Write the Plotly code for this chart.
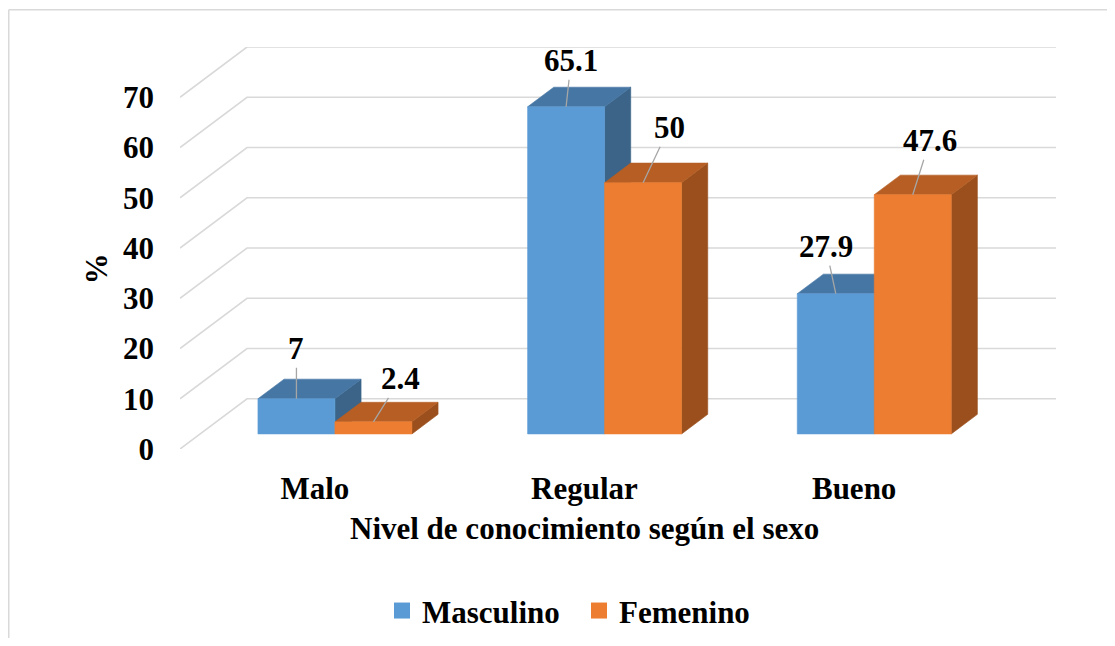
import plotly.graph_objects as go

# ---------------- data ----------------
categories = ["Malo", "Regular", "Bueno"]
series_names = ["Masculino", "Femenino"]
masculino = [7, 65.1, 27.9]
femenino = [2.4, 50, 47.6]
y_ticks = [0, 10, 20, 30, 40, 50, 60, 70]
x_title = "Nivel de conocimiento según el sexo"
y_title = "%"

# ---------------- style / geometry ----------------
OFF = 8                      # page body margin of the html page
W, H = 1115 - 2 * OFF, 646 - 2 * OFF     # keep the page from overflowing
PL, PR, PT, PB = 180, 1056, 46.7, 449   # plot box in window pixels
M_L, M_T = PL - OFF, PT - OFF
M_R, M_B = W - (PR - OFF), H - (PB - OFF)
pw, ph = PR - PL, PB - PT


def px_x(x):   # window pixel -> paper x
    return (x - PL) / pw


def px_y(y):   # window pixel -> paper y
    return (PB - y) / ph


DX = 0.2485          # full floor depth, in x (category) units
DY = 10.0            # full floor depth, in y (value) units
D0 = 0.30            # depth fraction of the bar front
DB = 0.39            # depth fraction of the bar thickness
BW = 0.2855          # bar width in category units
FONT = "Liberation Serif"
GRID = "#d9d9d9"
colors = {
    "Masculino": {"front": "#5B9BD5", "top": "#4676A4", "side": "#3B6488"},
    "Femenino": {"front": "#ED7D31", "top": "#B65E23", "side": "#9A4F1D"},
}
# label offsets (px) from the front-top centre of each bar
label_offsets = {
    "Masculino": [(0, -50), (5, -46), (-10, -47)],
    "Femenino": [(27, -43), (26, -55), (17, -54)],
}

fig = go.Figure()

x_lo, x_hi = -0.5, len(categories) - 0.5

# back wall horizontal gridlines and side wall diagonals
gx, gy = [], []
for v in y_ticks:
    gx += [x_lo, x_lo + DX, x_hi + DX, None]
    gy += [v, v + DY, v + DY, None]
fig.add_trace(go.Scatter(x=gx, y=gy, mode="lines",
                         line=dict(color=GRID, width=1.6),
                         hoverinfo="skip", showlegend=False))


def poly(xs, ys, color):
    fig.add_trace(go.Scatter(x=xs + [xs[0]], y=ys + [ys[0]], mode="lines",
                             fill="toself", fillcolor=color,
                             line=dict(color=color, width=0.6),
                             hoverinfo="skip", showlegend=False))


annotations = []
series = {"Masculino": masculino, "Femenino": femenino}
for i, cat in enumerate(categories):
    cx = i + D0 * DX
    for k, name in enumerate(series_names):
        v = series[name][i]
        L = cx - BW + k * BW
        R = L + BW
        B = D0 * DY
        T = B + v
        ddx, ddy = DB * DX, DB * DY
        c = colors[name]
        poly([R, R + ddx, R + ddx, R], [B, B + ddy, T + ddy, T], c["side"])
        poly([L, R, R + ddx, L + ddx], [T, T, T + ddy, T + ddy], c["top"])
        poly([L, R, R, L], [B, B, T, T], c["front"])
        ox, oy = label_offsets[name][i]
        annotations.append(dict(
            x=(L + R) / 2, y=T, xref="x", yref="y", text=f"{v:g}",
            showarrow=True, arrowhead=0, arrowwidth=1.3, arrowcolor="#a6a6a6",
            ax=ox, ay=oy, standoff=0,
            font=dict(family=FONT, size=31, color="black", weight="bold")))

# legend entries
for name in series_names:
    fig.add_trace(go.Scatter(x=[None], y=[None], mode="markers", name=name,
                             marker=dict(symbol="square", size=16,
                                         color=colors[name]["front"]),
                             hoverinfo="skip"))

# axis titles as annotations
annotations.append(dict(x=1, y=px_y(529), xref="x", yref="paper", text=x_title,
                        showarrow=False, xanchor="center", yanchor="middle",
                        font=dict(family=FONT, size=31, color="black", weight="bold")))
annotations.append(dict(x=px_x(96), y=px_y(269), xref="paper",
                        yref="paper", text=y_title, textangle=-90,
                        showarrow=False, xanchor="center", yanchor="middle",
                        font=dict(family=FONT, size=31, color="black", weight="bold")))

# light chart border (top and left edges visible in the reference)
shapes = [
    dict(type="line", xref="paper", yref="paper",
         x0=px_x(OFF + 0.75), x1=px_x(1115),
         y0=px_y(9.5), y1=px_y(9.5),
         line=dict(color=GRID, width=1.5)),
    dict(type="line", xref="paper", yref="paper",
         x0=px_x(OFF + 0.75), x1=px_x(OFF + 0.75),
         y0=px_y(9.5), y1=px_y(646),
         line=dict(color=GRID, width=1.5)),
]

fig.update_layout(
    width=W, height=H, autosize=False,
    margin=dict(l=M_L, r=M_R, t=M_T, b=M_B, pad=0, autoexpand=False),
    paper_bgcolor="white", plot_bgcolor="white",
    font=dict(family=FONT, size=31, color="black", weight="bold"),
    showlegend=True,
    legend=dict(orientation="h", x=px_x(382), xanchor="left",
                y=px_y(611), yanchor="middle", entrywidth=152,
                font=dict(family=FONT, size=31, color="black", weight="bold"),
                bgcolor="rgba(0,0,0,0)", itemclick=False, itemdoubleclick=False),
    xaxis=dict(range=[x_lo, x_hi + DX], tickvals=list(range(len(categories))),
               ticktext=categories, showgrid=False, zeroline=False,
               showline=False, ticks="", ticklabelstandoff=18, fixedrange=True),
    yaxis=dict(range=[0, 80], tickvals=y_ticks, showgrid=False, zeroline=False,
               showline=False, ticks="", ticklabelstandoff=25, fixedrange=True),
    annotations=annotations,
    shapes=shapes,
)

fig.write_html("out.html")
